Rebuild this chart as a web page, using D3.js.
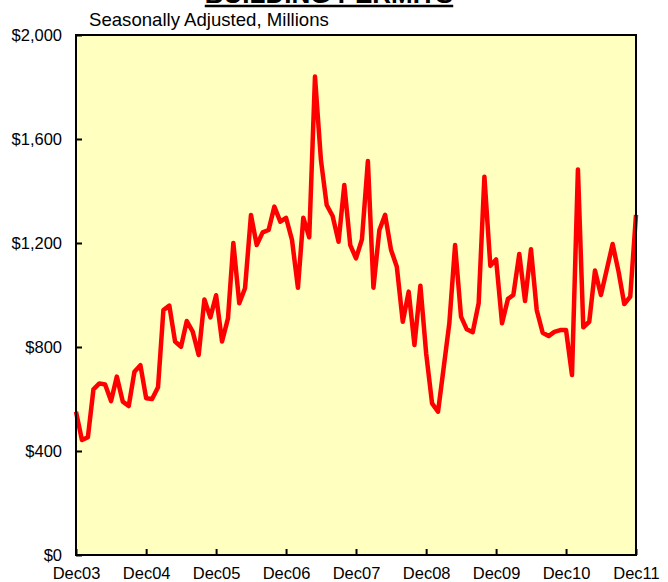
<!DOCTYPE html>
<html>
<head>
<meta charset="utf-8">
<script src="https://cdn.jsdelivr.net/npm/d3@7"></script>
<style>
  body { margin: 0; background: #fff; }
  svg { display: block; font-family: "Liberation Sans", Arial, sans-serif; }
</style>
</head>
<body>
<div id="chart"></div>
<script>
// monthly permits, Dec 2003 .. Dec 2011 ($ millions, seasonally adjusted)
const START = new Date(2003, 11, 1)
const VALUES = [
  551, 442, 453, 637, 660, 656, 592, 686, 590, 573, 705, 730,
  603, 600, 645, 942, 959, 821, 801, 900, 859, 769, 983, 914,
  999, 821, 910, 1200, 968, 1026, 1308, 1192, 1241, 1250, 1340, 1282,
  1297, 1212, 1028, 1297, 1222, 1840, 1519, 1346, 1304, 1205, 1423, 1192,
  1141, 1214, 1515, 1028, 1250, 1308, 1173, 1109, 897, 1013, 808, 1036,
  776, 583, 551, 712, 891, 1192, 917, 868, 857, 968, 1455, 1112,
  1137, 891, 985, 1000, 1158, 977, 1176, 942, 855, 842, 858, 865,
  865, 692, 1483, 876, 897, 1094, 1000, 1096, 1196, 1090, 965, 994,
  1308
]
const Y_TICKS = [0, 400, 800, 1200, 1600, 2000]
const X_TICK_YEARS = [2003, 2004, 2005, 2006, 2007, 2008, 2009, 2010, 2011]
const TITLE = "BUILDING PERMITS"
const SUBTITLE = "Seasonally Adjusted, Millions"

const width = 668, height = 582
const margin = { top: 35, right: 32, bottom: 27, left: 76 }
const innerW = width - margin.left - margin.right
const innerH = height - margin.top - margin.bottom

const data = VALUES.map((v, i) => ({ date: d3.timeMonth.offset(START, i), value: v }))

const x = d3.scaleTime()
  .domain([START, d3.timeMonth.offset(START, VALUES.length - 1)])
  .range([0, innerW])
const y = d3.scaleLinear()
  .domain([0, 2000])
  .range([innerH, 0])

const svg = d3.select("#chart").append("svg")
  .attr("width", width)
  .attr("height", height)

const g = svg.append("g")
  .attr("transform", `translate(${margin.left},${margin.top})`)

// plot background
g.append("rect")
  .attr("width", innerW)
  .attr("height", innerH)
  .attr("fill", "#ffffc0")

// axes, ticks pointing inward
const xAxis = g.append("g")
  .attr("transform", `translate(0,${innerH})`)
  .call(d3.axisBottom(x)
    .tickValues(X_TICK_YEARS.map(yr => new Date(yr, 11, 1)))
    .tickFormat(d3.timeFormat("%b%y"))
    .tickSize(-6)
    .tickPadding(12))
const yAxis = g.append("g")
  .call(d3.axisLeft(y)
    .tickValues(Y_TICKS)
    .tickFormat(d => "$" + d3.format(",")(d))
    .tickSize(-6)
    .tickPadding(14))

for (const ax of [xAxis, yAxis]) {
  ax.select(".domain").remove()
  ax.selectAll("line").attr("stroke", "#000").attr("stroke-width", 2)
  ax.selectAll("text").attr("font-size", 16.5).attr("fill", "#000")
    .attr("font-family", "Liberation Sans, Arial, sans-serif")
}

// the series
g.append("path")
  .datum(data)
  .attr("fill", "none")
  .attr("stroke", "#ff0000")
  .attr("stroke-width", 4.5)
  .attr("stroke-linejoin", "round")
  .attr("d", d3.line().x(d => x(d.date)).y(d => y(d.value)))

// frame
g.append("rect")
  .attr("width", innerW)
  .attr("height", innerH)
  .attr("fill", "none")
  .attr("stroke", "#000")
  .attr("stroke-width", 2)

// titles
const title = svg.append("text")
  .attr("x", 329)
  .attr("y", 3)
  .attr("text-anchor", "middle")
  .attr("font-size", 26)
  .attr("font-weight", "bold")
  .text(TITLE)
const tw = title.node().getComputedTextLength()
svg.append("line")
  .attr("x1", 329 - tw / 2).attr("x2", 329 + tw / 2)
  .attr("y1", 6).attr("y2", 6)
  .attr("stroke", "#000").attr("stroke-width", 2.5)

svg.append("text")
  .attr("x", 89)
  .attr("y", 26)
  .attr("font-size", 18.6)
  .text(SUBTITLE)
</script>
</body>
</html>
